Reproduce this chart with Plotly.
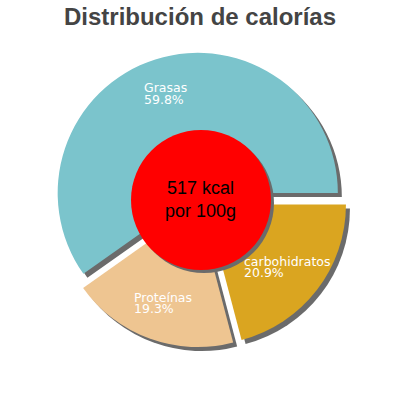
import plotly.graph_objects as go

# Calorie split per 100 g
labels = ["Grasas", "Proteínas", "carbohidratos"]
percents = [59.8, 19.3, 20.9]
colors = ["#7BC4CC", "#EEC591", "#DAA520"]
kcal_text = "517 kcal<br>por 100g"

W = H = 400
pull = 0.053
cx, cy, box = 200, 200, 295   # pie centre and domain size in px
# counterclockwise pies put the 1st/2nd slice boundary at `rotation`;
# Grasas must start at 3 o'clock
rotation = 90 - 360 * percents[0] / sum(percents)


def px_x(v):
    return v / W


def px_y(v):
    return 1 - v / H


def domain(dx=0, dy=0):
    return dict(
        x=[px_x(cx - box / 2 + dx), px_x(cx + box / 2 + dx)],
        y=[px_y(cy + box / 2 + dy), px_y(cy - box / 2 + dy)],
    )


fig = go.Figure()

# drop shadow: same pie in grey, nudged right/down
fig.add_trace(go.Pie(
    labels=labels, values=percents, sort=False,
    direction="counterclockwise", rotation=rotation,
    pull=[pull] * len(labels),
    marker=dict(colors=["#6B6B6B"] * len(labels), line=dict(width=0)),
    textinfo="none", hoverinfo="skip", showlegend=False,
    domain=domain(4, 4),
))

fig.add_trace(go.Pie(
    labels=labels, values=percents, sort=False,
    direction="counterclockwise", rotation=rotation,
    pull=[pull] * len(labels),
    marker=dict(colors=colors, line=dict(width=0)),
    textinfo="none", hoverinfo="label+percent", showlegend=False,
    domain=domain(),
))

# red centre disc with its own shadow
r = 70
for dx, col in [(3, "#6B6B6B"), (0, "#FF0000")]:
    fig.add_shape(
        type="circle", xref="paper", yref="paper", layer="above",
        x0=px_x(201 - r + dx), x1=px_x(201 + r + dx),
        y0=px_y(200 + r + dx), y1=px_y(200 - r + dx),
        fillcolor=col, line=dict(width=0),
    )

fig.add_annotation(
    text=kcal_text, x=px_x(200), y=px_y(199), xref="paper", yref="paper",
    showarrow=False, font=dict(family="Liberation Sans, Arial", size=18, color="black"),
)

# slice labels: (left x, first line y) in px
label_pos = {"Grasas": (142, 88), "Proteínas": (132, 297), "carbohidratos": (242, 261)}
for name, pct in zip(labels, percents):
    lx, ly = label_pos[name]
    for i, line in enumerate([name, f"{pct}%"]):
        fig.add_annotation(
            text=line, x=px_x(lx), y=px_y(ly + 11.5 * i), xref="paper", yref="paper",
            xanchor="left", yanchor="middle", showarrow=False,
            font=dict(family="DejaVu Sans", size=12.5, color="white"),
        )

fig.update_layout(
    width=W, height=H,
    margin=dict(l=0, r=0, t=0, b=0),
    paper_bgcolor="white", plot_bgcolor="white",
    title=dict(
        text="Distribución de calorías", x=0.5, xanchor="center",
        y=px_y(17), yanchor="middle",
        font=dict(family="Liberation Sans, Arial", size=24, color="#444444", weight="bold"),
    ),
)

# drop the browser's default 8px body margin so the 400px figure fills the window
fig.write_html(
    "out.html",
    config={"displayModeBar": False},
    post_script="document.body.style.margin = '0';",
)
